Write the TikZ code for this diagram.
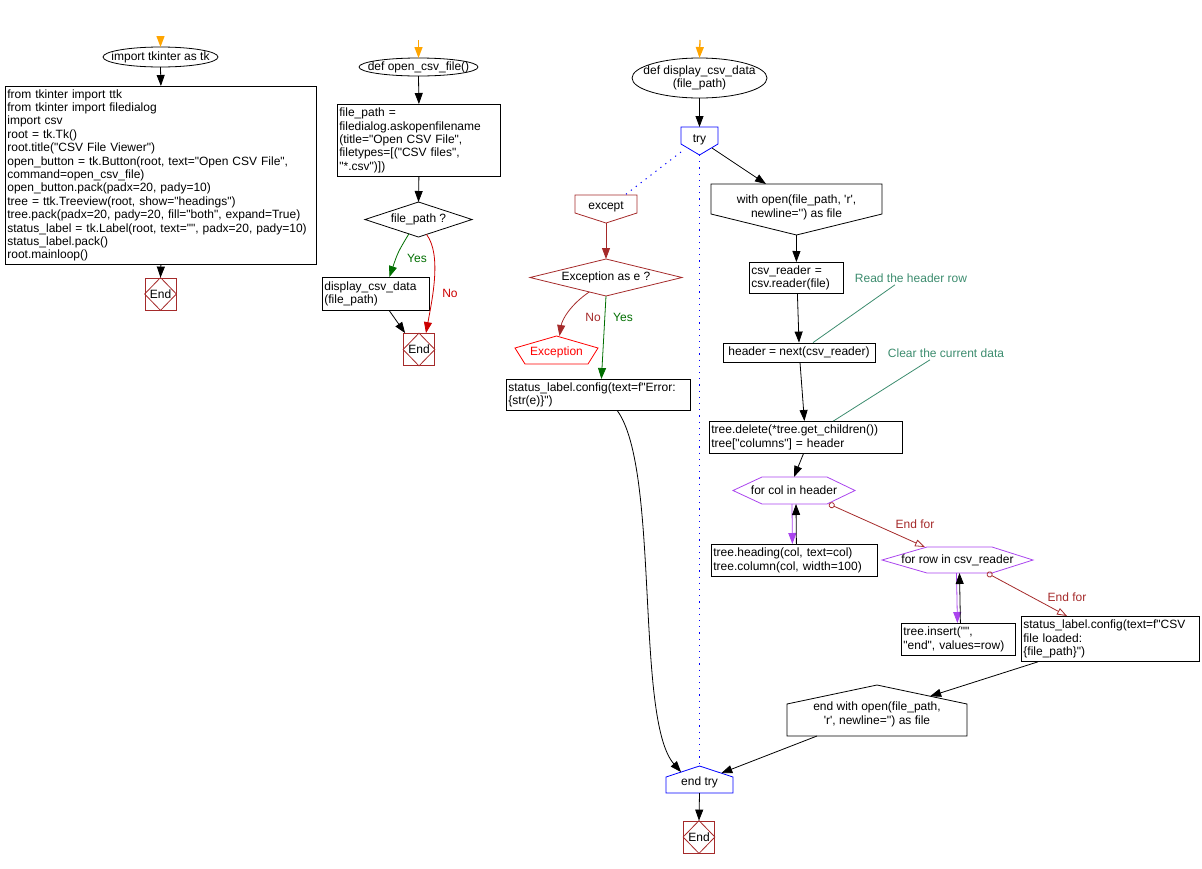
\documentclass[tikz,border=0pt]{standalone}
\usepackage{fontspec}
\setmainfont{Liberation Sans}[Ligatures=TeXOff]
\usetikzlibrary{arrows.meta,calc,shapes.geometric}
\definecolor{orangec}{RGB}{255,165,0}
\definecolor{endc}{RGB}{165,42,42}
\definecolor{brownc}{RGB}{165,42,42}
\definecolor{greenc}{RGB}{0,110,0}
\definecolor{redc}{RGB}{204,0,0}
\definecolor{exred}{RGB}{255,0,0}
\definecolor{violetc}{RGB}{170,68,238}
\definecolor{cmtc}{RGB}{60,140,110}
\definecolor{bluec}{RGB}{0,0,255}
\begin{document}
\begin{tikzpicture}[x=1pt,y=-1pt,line width=0.8pt,
  every node/.style={font=\fontsize{12}{13.4}\selectfont},
  arr/.style={-{Triangle[length=11pt,width=8pt]}},
  orarr/.style={-{Triangle[length=11pt,width=8pt]}, draw=orangec, fill=orangec, line width=1.3pt},
  box/.style={draw, align=left, inner xsep=2pt, inner ysep=0pt, anchor=north west},
  shp/.style={inner sep=0pt, outer sep=0pt},
  endbox/.style={draw=endc, minimum width=31pt, minimum height=32pt, inner sep=0pt},
  lbl/.style={inner sep=1pt},
  cmt/.style={inner sep=1pt, text=cmtc},
  loopend/.style={{Circle[open,length=6pt,width=6pt]}-{Triangle[open,length=10pt,width=7pt]}, draw=brownc},
  dots/.style={draw=bluec, line width=1pt, dash pattern=on 1.2pt off 5pt}
]
\useasboundingbox (0,0) rectangle (1202,868);

% ---------------- column 1 ----------------
\coordinate (s1) at (160.5,40);
\node[shp, draw, ellipse, minimum width=115pt, minimum height=20pt] (e1) at (160.5,57) {};
\node (e1t) at (e1.center) {import tkinter as tk};
\node[box, text width=307pt, minimum height=178pt] (c1) at (5,86) {from tkinter import ttk\\
from tkinter import filedialog\\
import csv\\
root = tk.Tk()\\
root.title("CSV File Viewer")\\
open\_button = tk.Button(root, text="Open CSV File",\\
command=open\_csv\_file)\\
open\_button.pack(padx=20, pady=10)\\
tree = ttk.Treeview(root, show="headings")\\
tree.pack(padx=20, pady=20, fill="both", expand=True)\\
status\_label = tk.Label(root, text="", padx=20, pady=10)\\
status\_label.pack()\\
root.mainloop()};
\node[endbox] (end1) at (160.5,294) {End};
\draw[endc] (end1.north) -- (end1.east) -- (end1.south) -- (end1.west) -- cycle;

\draw[orarr] (s1) -- (e1.north);
\draw[arr] (e1.south) -- (c1.north);
\draw[arr] (c1.south) -- (end1.north);

% ---------------- column 2 ----------------
\coordinate (s2) at (418.5,40);
\node[shp, draw, ellipse, minimum width=119pt, minimum height=18pt] (e2) at (418.5,67) {};
\node (e2t) at (e2.center) {def open\_csv\_file()};
\node[box, text width=159pt, minimum height=72pt] (ask) at (337,104) {file\_path =\\
filedialog.askopenfilename\\
(title="Open CSV File",\\
filetypes=[("CSV files",\\
"*.csv")])};
\node[shp, draw, diamond, minimum width=107pt, minimum height=35pt] (d1) at (418.5,219.5) {};
\node (d1t) at (d1.center) {file\_path ?};
\node[box, text width=103pt, minimum height=33pt] (disp) at (322,277) {display\_csv\_data\\(file\_path)};
\node[endbox] (end2) at (419,349.5) {End};
\draw[endc] (end2.north) -- (end2.east) -- (end2.south) -- (end2.west) -- cycle;

\draw[orarr] (s2) -- (e2.north);
\draw[arr] (e2.south) -- (ask.north);
\draw[arr] (ask.south) -- (d1.north);
\draw[arr, greenc] ($(d1.south)!0.18!(d1.west)$) .. controls (398,252) .. ($(disp.north)+(13.5,0)$);
\node[lbl, text=greenc] (y1) at (417,258) {Yes};
\draw[arr, redc] ($(d1.south)!0.15!(d1.east)$) .. controls (442,255) and (432,300) .. ($(end2.north)+(7,0)$);
\node[lbl, text=redc] (n1) at (450,293) {No};
\draw[arr] ($(disp.south)+(13.5,0)$) -- ($(end2.north west)+(2,0)$);

% ---------------- column 3 ----------------
\coordinate (s3) at (700,40);
\node[shp, draw, ellipse, minimum width=135pt, minimum height=40pt] (e3) at (699.5,78) {};
\node[align=center] (e3t) at (e3.center) {def display\_csv\_data\\(file\_path)};

% try
\node[shp, minimum width=37pt, minimum height=28pt] (try) at (699.5,141) {};
\draw[bluec] (try.north west) -- (try.north east) -- ($(try.south east)+(0,-11)$) -- (try.south) -- ($(try.south west)+(0,-11)$) -- cycle;
\node (tryt) at (699.5,139.5) {try};

% except
\node[shp, minimum width=62pt, minimum height=28pt] (exc) at (606,209) {};
\draw[brownc] (exc.north west) -- (exc.north east) -- ($(exc.south east)+(0,-10)$) -- (exc.south) -- ($(exc.south west)+(0,-10)$) -- cycle;
\node (exct) at (606,206.5) {except};

\node[shp, draw=brownc, diamond, minimum width=152pt, minimum height=37pt] (d2) at (606,277.5) {};
\node (d2t) at (d2.center) {Exception as e ?};

% Exception
\node[shp, minimum width=83pt, minimum height=28pt] (exn) at (556.5,350) {};
\draw[exred] (exn.north) -- ($(exn.east)+(0,-2)$) -- ($(exn.south east)+(-10,0)$) -- ($(exn.south west)+(10,0)$) -- ($(exn.west)+(0,-2)$) -- cycle;
\node[text=exred] (exnt) at (556.5,352.5) {Exception};

\node[box, text width=180pt, minimum height=31pt] (se) at (506,379) {status\_label.config(text=f"Error:\\\{str(e)\}")};

% with open
\node[shp, minimum width=171pt, minimum height=51pt] (wo) at (796.5,209.5) {};
\draw (wo.north west) -- (wo.north east) -- ($(wo.south east)+(0,-21)$) -- (wo.south) -- ($(wo.south west)+(0,-21)$) -- cycle;
\node[align=center] (wot) at (796.5,207.5) {with open(file\_path, 'r',\\newline='') as file};

\node[box, text width=90pt, minimum height=31pt] (cr) at (749,262) {csv\_reader =\\csv.reader(file)};
\node[draw, align=center, inner sep=0pt, minimum width=152pt, minimum height=19pt] (hd) at (799,352.5) {header = next(csv\_reader)};
\node[box, text width=189pt, minimum height=32pt] (td) at (709,421) {tree.delete(*tree.get\_children())\\tree["columns"] = header};

\node[cmt] (cm1) at (911,278) {Read the header row};
\node[cmt] (cm2) at (946,353) {Clear the current data};

% for col
\node[shp, minimum width=122pt, minimum height=27pt] (fc) at (794,490.5) {};
\draw[violetc] (fc.west) -- ($(fc.north west)+(29,0)$) -- ($(fc.north east)+(-28,0)$) -- (fc.east) -- ($(fc.south east)+(-28,0)$) -- ($(fc.south west)+(29,0)$) -- cycle;
\node (fct) at (fc.center) {for col in header};
\node[box, text width=162pt, minimum height=32pt] (hdg) at (711,544) {tree.heading(col, text=col)\\tree.column(col, width=100)};

% for row
\node[shp, minimum width=151pt, minimum height=26pt] (fr) at (957.5,560) {};
\draw[violetc] (fr.west) -- ($(fr.north west)+(45,0)$) -- ($(fr.north east)+(-41,0)$) -- (fr.east) -- ($(fr.south east)+(-41,0)$) -- ($(fr.south west)+(45,0)$) -- cycle;
\node (frt) at (fr.center) {for row in csv\_reader};
\node[box, text width=110pt, minimum height=32pt] (ins) at (901,623) {tree.insert("",\\"end", values=row)};
\node[box, text width=174pt, minimum height=45pt] (sok) at (1021,616) {status\_label.config(text=f"CSV\\file loaded:\\\{file\_path\}")};

% end with
\node[shp, minimum width=180pt, minimum height=51pt] (ew) at (877,710.5) {};
\draw (ew.north) -- ($(ew.north east)+(0,19)$) -- (ew.south east) -- (ew.south west) -- ($(ew.north west)+(0,19)$) -- cycle;
\node[align=center] (ewt) at (877,714.5) {end with open(file\_path,\\'r', newline='') as file};

% end try
\node[shp, minimum width=67pt, minimum height=27pt] (et) at (699.5,779.5) {};
\coordinate (etL) at ($(et.north west)+(0,11)$);
\coordinate (etR) at ($(et.north east)+(0,11)$);
\draw[bluec] (et.north) -- (etR) -- (et.south east) -- (et.south west) -- (etL) -- cycle;
\node (ett) at (699.5,782) {end try};

\node[endbox] (end3) at (699,837) {End};
\draw[endc] (end3.north) -- (end3.east) -- (end3.south) -- (end3.west) -- cycle;

% connectors column 3
\draw[orarr] (s3) -- (e3.north);
\draw[arr] (e3.south) -- (try.north);
\draw[dots] ($(try.south west)+(0,-3)$) -- ($(exc.north)+(19,0)$);
\draw[dots] (try.south) -- (et.north);
\draw[arr] ($(try.south east)+(-6,-7)$) -- ($(wo.north west)+(55,0)$);
\draw[arr, brownc] (exc.south) -- (d2.north);
\draw[arr, brownc] ($(d2.south)!0.22!(d2.west)$) .. controls (570,305) and (562,320) .. ($(exn.north)+(3,0)$);
\node[lbl, text=brownc] (n2) at (593,317) {No};
\draw[arr, greenc] (d2.south) -- ($(se.north)+(3,0)$);
\node[lbl, text=greenc] (y2) at (623,317) {Yes};
\draw[arr] ($(se.south)+(19,0)$) .. controls (660,470) and (635,720) .. ($(et.north)!0.55!(etL)$);

\draw[arr] (wo.south) -- (cr.north);
\draw[arr] ($(cr.south)+(1,0)$) -- (hd.north);
\draw[arr] ($(hd.south)+(1,0)$) -- ($(td.north)+(-1.5,0)$);
\draw[arr] ($(td.south)+(-2.5,0)$) -- (fc.north);
\draw[cmtc] ($(cm1.south)+(-16,1)$) -- ($(hd.north)+(14,0)$);
\draw[cmtc] ($(cm2.south)+(-16,1)$) -- ($(td.north)+(27.5,0)$);

\draw[arr, violetc] ($(fc.south)+(-2,0)$) -- ($(hdg.north)+(-2,0)$);
\draw[arr] ($(hdg.north)+(2,0)$) -- ($(fc.south)+(2,0)$);
\draw[loopend] ($(fc.south east)+(-26,0)$) -- ($(fr.north west)+(43,0)$);
\node[lbl, text=brownc] (ef1) at (915,524) {End for};

\draw[arr, violetc] ($(fr.south)+(-1,0)$) -- ($(ins.north)+(-1,0)$);
\draw[arr] ($(ins.north)+(2,0)$) -- ($(fr.south)+(2,0)$);
\draw[loopend] ($(fr.south east)+(-46,0)$) -- ($(sok.north west)+(46,0)$);
\node[lbl, text=brownc] (ef2) at (1067,597) {End for};

\draw[arr] ($(sok.south west)+(17,0)$) -- ($(ew.north)!0.59!($(ew.north east)+(0,19)$)$);
\draw[arr] ($(ew.south west)+(30,0)$) -- ($(et.north)!0.65!(etR)$);
\draw[arr] (et.south) -- (end3.north);
\end{tikzpicture}
\end{document}
